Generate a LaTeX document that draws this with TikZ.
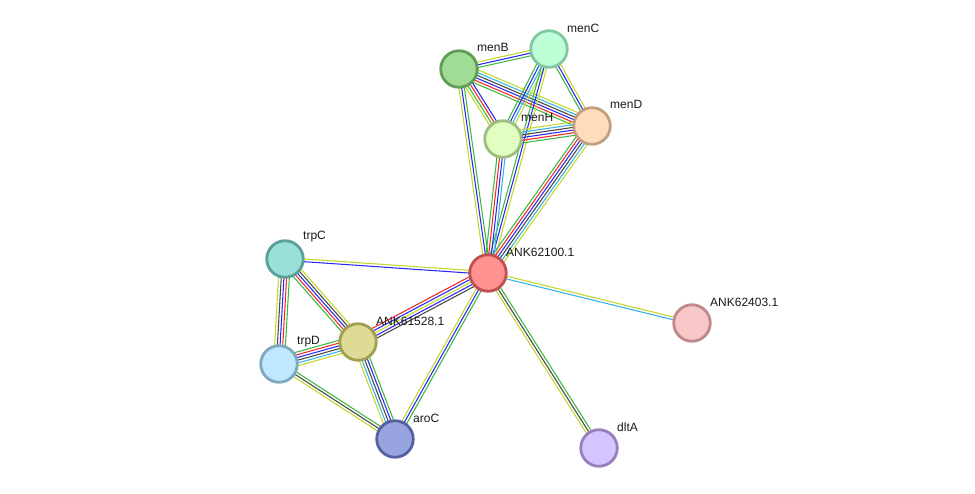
\documentclass[tikz,border=0pt]{standalone}
\usepackage{fontspec}
\setmainfont{Liberation Sans}
\usetikzlibrary{calc}
\pgfdeclarelayer{bg}
\pgfsetlayers{bg,main}
\definecolor{sg}{RGB}{60,185,60}
\definecolor{sr}{RGB}{240,40,40}
\definecolor{sb}{RGB}{40,40,240}
\definecolor{sk}{RGB}{70,70,70}
\definecolor{sc}{RGB}{50,180,225}
\definecolor{sy}{RGB}{195,215,40}
\newcommand\sedge[4]{%
  \foreach \c [count=\i] in {#4}{%
    \pgfmathsetmacro\off{(\i-(#3+1)/2)*2.7}%
    \draw[\c, line width=1.05pt] ($(#1)!\off pt!90:(#2)$) -- ($(#2)!\off pt!-90:(#1)$);
  }%
}
\begin{document}
\begin{tikzpicture}[x=1pt,y=-1pt,
  prot/.style={circle, line width=2.8pt, minimum size=36.5pt, inner sep=0pt},
  lab/.style={anchor=west, font=\fontsize{12}{14}\selectfont, inner sep=0pt, text=black!90}]
\useasboundingbox (0,0) rectangle (975,494);

\node[prot, draw={rgb,255:red,192;green,80;blue,80}, fill={rgb,255:red,255;green,145;blue,145}] (A100) at (488,273) {};
\node[prot, draw={rgb,255:red,94;green,158;blue,85}, fill={rgb,255:red,160;green,220;blue,150}] (menB) at (459,69) {};
\node[prot, draw={rgb,255:red,128;green,200;blue,160}, fill={rgb,255:red,190;green,255;blue,216}] (menC) at (549,49) {};
\node[prot, draw={rgb,255:red,192;green,160;blue,128}, fill={rgb,255:red,255;green,221;blue,187}] (menD) at (592,126) {};
\node[prot, draw={rgb,255:red,160;green,188;blue,128}, fill={rgb,255:red,224;green,255;blue,192}] (menH) at (503,139) {};
\node[prot, draw={rgb,255:red,90;green,160;blue,152}, fill={rgb,255:red,152;green,224;blue,216}] (trpC) at (285,259) {};
\node[prot, draw={rgb,255:red,160;green,160;blue,80}, fill={rgb,255:red,222;green,219;blue,150}] (A528) at (358,342) {};
\node[prot, draw={rgb,255:red,128;green,168;blue,192}, fill={rgb,255:red,192;green,232;blue,255}] (trpD) at (279,364) {};
\node[prot, draw={rgb,255:red,85;green,96;blue,160}, fill={rgb,255:red,152;green,164;blue,224}] (aroC) at (395,439) {};
\node[prot, draw={rgb,255:red,192;green,136;blue,136}, fill={rgb,255:red,248;green,200;blue,200}] (A403) at (692,323) {};
\node[prot, draw={rgb,255:red,152;green,128;blue,192}, fill={rgb,255:red,212;green,196;blue,255}] (dltA) at (599,448) {};

\node[lab] (lA100) at (506,252) {ANK62100.1};
\node[lab] (lmenB) at (477,47) {menB};
\node[lab] (lmenC) at (567,28) {menC};
\node[lab] (lmenD) at (610,104) {menD};
\node[lab] (lmenH) at (521,117) {menH};
\node[lab] (ltrpC) at (303,237) {trpC};
\node[lab] (lA528) at (376,321) {ANK61528.1};
\node[lab] (ltrpD) at (297,342) {trpD};
\node[lab] (laroC) at (413,418) {aroC};
\node[lab] (lA403) at (710,302) {ANK62403.1};
\node[lab] (ldltA) at (617,427) {dltA};

\begin{pgfonlayer}{bg}
\fill[white] (0,0) rectangle (975,494);
\sedge{menB}{menC}{3}{sg,sb,sy}
\sedge{menB}{menD}{6}{sg,sr,sb,sk,sc,sy}
\sedge{menB}{menH}{4}{sy,sg,sr,sb}
\sedge{menB}{A100}{3}{sy,sb,sg}
\sedge{menC}{menD}{3}{sg,sb,sy}
\sedge{menC}{menH}{4}{sg,sb,sc,sy}
\sedge{menC}{A100}{3}{sg,sb,sy}
\sedge{menD}{menH}{6}{sy,sc,sk,sb,sr,sg}
\sedge{menD}{A100}{6}{sg,sr,sb,sk,sc,sy}
\sedge{menH}{A100}{4}{sg,sr,sb,sc}
\sedge{trpC}{A100}{2}{sb,sy}
\sedge{trpC}{A528}{5}{sg,sr,sb,sk,sy}
\sedge{trpC}{trpD}{5}{sy,sk,sb,sr,sg}
\sedge{A528}{A100}{5}{sk,sb,sy,sb,sr}
\sedge{trpD}{A528}{6}{sy,sc,sk,sb,sr,sg}
\sedge{trpD}{aroC}{3}{sy,sk,sg}
\sedge{A528}{aroC}{5}{sy,sc,sk,sb,sg}
\sedge{A100}{aroC}{3}{sy,sb,sg}
\sedge{A100}{A403}{2}{sc,sy}
\sedge{A100}{dltA}{3}{sy,sk,sg}
\end{pgfonlayer}
\end{tikzpicture}
\end{document}
